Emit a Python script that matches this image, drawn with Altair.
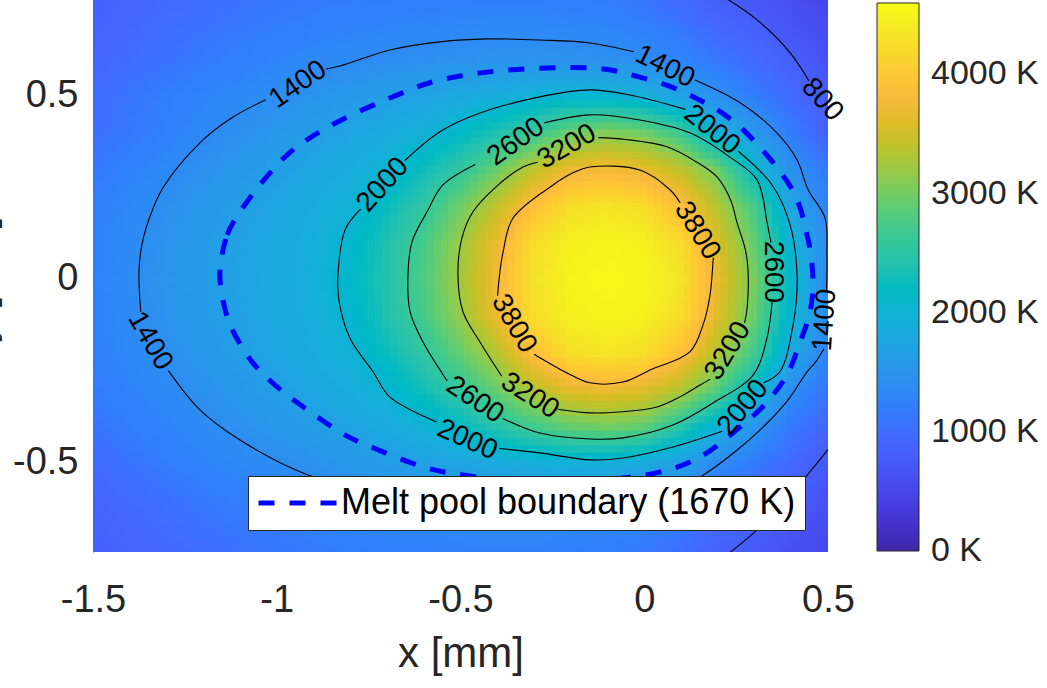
import numpy as np
import pandas as pd
import altair as alt

FONT = "Liberation Sans"
TEXT_GREY = "#262626"

# ---------------------------------------------------------------------------
# Temperature field [K] on a 0.1 mm grid
# ---------------------------------------------------------------------------
x_nodes = [-1.5, -1.4, -1.3, -1.2, -1.1, -1.0, -0.9, -0.8, -0.7, -0.6, -0.5,
           -0.4, -0.3, -0.2, -0.1, 0.0, 0.1, 0.2, 0.3, 0.4, 0.5]
y_nodes = [0.8, 0.7, 0.6, 0.5, 0.4, 0.3, 0.2, 0.1, 0.0,
           -0.1, -0.2, -0.3, -0.4, -0.5, -0.6, -0.7, -0.8]

t_y_p08 = [800, 860, 920, 975, 1025, 1065, 1100, 1130, 1150, 1165, 1175, 1178, 1175, 1160, 1130, 1040, 920, 750, 670, 570, 470]
t_y_p07 = [850, 920, 990, 1050, 1110, 1160, 1205, 1240, 1270, 1290, 1305, 1310, 1310, 1295, 1265, 1200, 1080, 910, 805, 680, 560]
t_y_p06 = [900, 980, 1060, 1140, 1210, 1270, 1325, 1370, 1401, 1430, 1455, 1475, 1480, 1470, 1445, 1405, 1300, 1116, 962, 808, 650]
t_y_p05 = [980, 1090, 1190, 1270, 1340, 1416, 1493, 1571, 1649, 1733, 1819, 1905, 1991, 2060, 2055, 1960, 1720, 1445, 1207, 981, 770]
t_y_p04 = [1030, 1115, 1222, 1329, 1436, 1543, 1650, 1753, 1855, 1956, 2138, 2381, 2640, 2950, 3100, 3000, 2680, 1996, 1584, 1200, 850]
t_y_p03 = [1130, 1238, 1346, 1454, 1562, 1670, 1779, 1887, 1996, 2269, 2550, 2951, 3400, 3700, 3780, 3680, 3420, 2987, 2165, 1470, 1150]
t_y_p02 = [1207, 1319, 1431, 1543, 1655, 1761, 1866, 1971, 2226, 2540, 2971, 3424, 3900, 4250, 4330, 4250, 3880, 3352, 2752, 1788, 1270]
t_y_p01 = [1240, 1360, 1479, 1598, 1711, 1814, 1917, 2064, 2383, 2743, 3190, 3682, 4250, 4460, 4520, 4470, 4250, 3579, 2920, 2030, 1370]
t_y_000 = [1250, 1370, 1491, 1612, 1724, 1827, 1931, 2104, 2420, 2790, 3235, 3744, 4300, 4500, 4580, 4530, 4350, 3697, 3041, 2145, 1385]
t_y_m01 = [1240, 1362, 1480, 1600, 1705, 1808, 1910, 2057, 2390, 2727, 3160, 3680, 4250, 4460, 4520, 4470, 4260, 3600, 2940, 2070, 1370]
t_y_m02 = [1213, 1323, 1433, 1543, 1652, 1760, 1864, 1973, 2230, 2538, 2908, 3326, 3880, 4250, 4340, 4270, 3920, 3339, 2719, 1818, 1270]
t_y_m03 = [1152, 1254, 1355, 1457, 1558, 1660, 1775, 1892, 2019, 2292, 2565, 2933, 3330, 3620, 3700, 3600, 3330, 2824, 2122, 1420, 1100]
t_y_m04 = [1080, 1171, 1263, 1356, 1448, 1541, 1633, 1738, 1852, 1966, 2183, 2443, 2700, 2920, 3000, 2900, 2475, 1976, 1523, 1150, 900]
t_y_m05 = [960, 1070, 1170, 1260, 1335, 1385, 1462, 1540, 1618, 1690, 1760, 1840, 1900, 1950, 1940, 1850, 1660, 1380, 1166, 953, 740]
t_y_m06 = [880, 960, 1040, 1120, 1190, 1250, 1310, 1365, 1410, 1440, 1460, 1470, 1475, 1465, 1440, 1405, 1280, 1087, 930, 780, 640]
t_y_m07 = [830, 900, 970, 1030, 1090, 1140, 1190, 1230, 1260, 1285, 1300, 1305, 1305, 1290, 1260, 1200, 1090, 920, 790, 660, 550]
t_y_m08 = [780, 840, 900, 955, 1005, 1045, 1080, 1110, 1130, 1145, 1155, 1160, 1155, 1140, 1110, 1030, 910, 770, 670, 560, 460]

temperature_rows = [t_y_p08, t_y_p07, t_y_p06, t_y_p05, t_y_p04, t_y_p03, t_y_p02,
                    t_y_p01, t_y_000, t_y_m01, t_y_m02, t_y_m03, t_y_m04, t_y_m05,
                    t_y_m06, t_y_m07, t_y_m08]

# ---------------------------------------------------------------------------
# Isotherms (x, y in mm), split where the inline labels sit
# ---------------------------------------------------------------------------
iso_800 = [
    [(0.222, 0.765), (0.307, 0.706), (0.397, 0.616), (0.448, 0.540)],
    [(0.52, -0.44), (0.432, -0.548), (0.36, -0.63), (0.301, -0.689), (0.215, -0.76)],
]
iso_1400 = [
    [(-1.37, -0.09), (-1.375, 0.019), (-1.367, 0.093), (-1.345, 0.17), (-1.31, 0.248),
     (-1.209, 0.371), (-1.119, 0.441), (-1.03, 0.488)],
    [(-0.866, 0.572), (-0.828, 0.580), (-0.692, 0.624), (-0.556, 0.646), (-0.428, 0.654),
     (-0.284, 0.651), (-0.148, 0.643), (-0.028, 0.619)],
    [(0.138, 0.542), (0.261, 0.480), (0.361, 0.398), (0.416, 0.324), (0.446, 0.243),
     (0.492, 0.166), (0.497, 0.074), (0.496, -0.03)],
    [(0.489, -0.19), (0.465, -0.228), (0.443, -0.253), (0.391, -0.330), (0.329, -0.398),
     (0.247, -0.471), (0.152, -0.540), (0.05, -0.59), (-0.15, -0.62), (-0.40, -0.62),
     (-0.60, -0.60), (-0.80, -0.565), (-0.915, -0.534), (-1.10, -0.439), (-1.209, -0.357),
     (-1.295, -0.25)],
]
iso_2000 = [
    [(-0.652, 0.322), (-0.556, 0.401), (-0.447, 0.452), (-0.284, 0.496), (-0.148, 0.515),
     (-0.039, 0.501), (0.112, 0.462)],
    [(0.256, 0.348), (0.348, 0.256), (0.397, 0.147), (0.416, 0.003), (0.405, -0.125),
     (0.369, -0.253), (0.325, -0.283)],
    [(0.212, -0.415), (0.078, -0.458), (-0.058, -0.488), (-0.148, -0.493), (-0.284, -0.474),
     (-0.395, -0.462)],
    [(-0.565, -0.39), (-0.692, -0.322), (-0.738, -0.253), (-0.801, -0.161), (-0.831, -0.057),
     (-0.833, 0.019), (-0.814, 0.134), (-0.772, 0.19)],
]
iso_2600 = [
    [(-0.272, 0.425), (-0.148, 0.447), (-0.012, 0.433), (0.124, 0.398), (0.233, 0.332),
     (0.307, 0.270), (0.334, 0.155), (0.345, 0.098)],
    [(0.348, -0.06), (0.334, -0.161), (0.296, -0.262), (0.187, -0.338), (0.078, -0.398),
     (-0.058, -0.433), (-0.148, -0.436), (-0.284, -0.420), (-0.385, -0.38)],
    [(-0.536, -0.278), (-0.602, -0.172), (-0.637, -0.090), (-0.643, 0.011), (-0.632, 0.101),
     (-0.591, 0.183), (-0.548, 0.256), (-0.46, 0.312)],
]
iso_3200 = [
    [(-0.125, 0.385), (-0.05, 0.380), (0.062, 0.360), (0.140, 0.320), (0.198, 0.278),
     (0.235, 0.215), (0.252, 0.155), (0.275, 0.080), (0.282, 0.030), (0.280, -0.079),
     (0.273, -0.12)],
    [(0.18, -0.273), (0.152, -0.289), (0.100, -0.320), (0.035, -0.349), (-0.060, -0.362),
     (-0.148, -0.365), (-0.221, -0.357), (-0.235, -0.355)],
    [(-0.388, -0.265), (-0.447, -0.172), (-0.493, -0.090), (-0.507, 0.011), (-0.496, 0.112),
     (-0.466, 0.183), (-0.401, 0.253), (-0.33, 0.305), (-0.29, 0.318)],
]
iso_3800 = [
    [(-0.30, -0.205), (-0.210, -0.256), (-0.148, -0.283), (-0.058, -0.281), (0.016, -0.248),
     (0.124, -0.199), (0.160, -0.125), (0.179, -0.044), (0.187, 0.046), (0.188, 0.058)],
    [(0.098, 0.207), (0.070, 0.243), (-0.012, 0.297), (-0.148, 0.305), (-0.194, 0.289),
     (-0.248, 0.256), (-0.357, 0.166), (-0.384, 0.074), (-0.395, 0.0), (-0.399, -0.046)],
]

# Melt pool boundary, 1670 K (closed curve)
melt_x = [-1.154, -1.135, -1.100, -1.046, -0.98, -0.918, -0.828, -0.692, -0.556, -0.373,
          -0.148, -0.012, 0.124, 0.261, 0.397, 0.443, 0.459, 0.451, 0.424, 0.388, 0.33,
          0.261, 0.152, 0.029, -0.15, -0.35, -0.493, -0.602, -0.738, -0.828, -0.964,
          -1.037, -1.081, -1.127, -1.149]
melt_y = [0.030, 0.120, 0.183, 0.256, 0.33, 0.379, 0.431, 0.493, 0.542, 0.569,
          0.575, 0.550, 0.501, 0.414, 0.253, 0.120, 0.003, -0.090, -0.172, -0.262, -0.34,
          -0.403, -0.485, -0.529, -0.55, -0.55, -0.534, -0.512, -0.460, -0.417, -0.322,
          -0.259, -0.207, -0.125, -0.044]
melt_name = "Melt pool boundary (1670 K)"

# Inline isotherm labels: text, x, y, rotation (deg, clockwise)
label_text = ["1400", "1400", "800", "2000", "2600", "3200", "2000", "3800", "2600",
              "1400", "3800", "3200", "2000", "2600", "3200", "2000", "1400"]
label_x = [-0.942, 0.056, 0.484, -0.711, -0.349, -0.210, 0.184, 0.144, 0.350,
           0.492, -0.355, 0.228, 0.269, -0.461, -0.311, -0.482, -1.345]
label_y = [0.529, 0.578, 0.488, 0.256, 0.373, 0.360, 0.406, 0.131, 0.019,
           -0.112, -0.122, -0.196, -0.351, -0.330, -0.319, -0.439, -0.169]
label_angle = [325.5, 26.6, 48, 312, 324.6, 330, 38.7, 58.5, 90,
               274, 60, 301, 309.6, 33.7, 32.3, 23.8, 60]

# Colour bar ticks
cbar_ticks = [0, 1000, 2000, 3000, 4000]
T_MAX = 4600

# Parula colormap (64 entries)
parula = [
    (0.2422, 0.1504, 0.6603), (0.2504, 0.1650, 0.7076), (0.2578, 0.1818, 0.7511), (0.2647, 0.1978, 0.7952),
    (0.2706, 0.2147, 0.8364), (0.2751, 0.2342, 0.8710), (0.2783, 0.2559, 0.8991), (0.2803, 0.2782, 0.9221),
    (0.2813, 0.3006, 0.9414), (0.2810, 0.3228, 0.9579), (0.2795, 0.3447, 0.9717), (0.2760, 0.3667, 0.9829),
    (0.2699, 0.3892, 0.9906), (0.2602, 0.4123, 0.9952), (0.2440, 0.4358, 0.9988), (0.2206, 0.4603, 0.9973),
    (0.1963, 0.4847, 0.9892), (0.1834, 0.5074, 0.9798), (0.1786, 0.5289, 0.9682), (0.1764, 0.5499, 0.9520),
    (0.1687, 0.5703, 0.9359), (0.1540, 0.5902, 0.9218), (0.1460, 0.6091, 0.9079), (0.1380, 0.6276, 0.8973),
    (0.1248, 0.6459, 0.8883), (0.1113, 0.6635, 0.8763), (0.0952, 0.6798, 0.8598), (0.0689, 0.6948, 0.8394),
    (0.0297, 0.7082, 0.8163), (0.0036, 0.7203, 0.7917), (0.0067, 0.7312, 0.7660), (0.0433, 0.7411, 0.7394),
    (0.0964, 0.7500, 0.7120), (0.1408, 0.7584, 0.6842), (0.1717, 0.7670, 0.6554), (0.1938, 0.7758, 0.6251),
    (0.2161, 0.7843, 0.5923), (0.2470, 0.7918, 0.5567), (0.2906, 0.7973, 0.5188), (0.3406, 0.8008, 0.4789),
    (0.3909, 0.8029, 0.4354), (0.4456, 0.8024, 0.3909), (0.5044, 0.7993, 0.3480), (0.5616, 0.7942, 0.3045),
    (0.6174, 0.7876, 0.2612), (0.6720, 0.7793, 0.2227), (0.7242, 0.7698, 0.1910), (0.7738, 0.7598, 0.1646),
    (0.8203, 0.7498, 0.1535), (0.8634, 0.7406, 0.1596), (0.9035, 0.7330, 0.1774), (0.9393, 0.7288, 0.2100),
    (0.9728, 0.7298, 0.2394), (0.9956, 0.7434, 0.2371), (0.9970, 0.7659, 0.2199), (0.9952, 0.7893, 0.2028),
    (0.9892, 0.8136, 0.1885), (0.9786, 0.8386, 0.1766), (0.9676, 0.8639, 0.1643), (0.9610, 0.8890, 0.1537),
    (0.9597, 0.9135, 0.1423), (0.9628, 0.9373, 0.1265), (0.9691, 0.9606, 0.1064), (0.9769, 0.9839, 0.0805),
]
parula_hex = ["#%02x%02x%02x" % tuple(int(round(c * 255)) for c in rgb) for rgb in parula]
parula_stops = list(np.linspace(0, T_MAX, len(parula_hex)))
parula_stops[0] = -1.0  # keeps the "0 K" label centred on the bar end

# ---------------------------------------------------------------------------
# Build tables
# ---------------------------------------------------------------------------
X_DOMAIN = [-1.5, 0.5]
Y_DOMAIN = [-0.744, 0.760]

# interpolated ("interp") shading between grid nodes
STEP = 0.02
grid = np.array(temperature_rows, dtype=float)[::-1]      # bottom -> top
gy_nodes = np.array(y_nodes)[::-1]
fx = np.round(np.arange(X_DOMAIN[0], X_DOMAIN[1] + 1e-9, STEP), 4)
fy = np.round(np.arange(-0.76, 0.78 + 1e-9, STEP), 4)
along_x = np.array([np.interp(fx, x_nodes, row) for row in grid])
shaded = np.array([np.interp(fy, gy_nodes, along_x[:, j]) for j in range(len(fx))]).T
half = STEP / 2 + 0.003
XX, YY = np.meshgrid(fx, fy)
cells = pd.DataFrame({
    "x0": (XX - half).ravel(), "x1": (XX + half).ravel(),
    "y0": (YY - half).ravel(), "y1": (YY + half).ravel(),
    "T": np.round(shaded.ravel(), 1),
})

iso_rows = []
for level, pieces in [(800, iso_800), (1400, iso_1400), (2000, iso_2000),
                      (2600, iso_2600), (3200, iso_3200), (3800, iso_3800)]:
    for p, piece in enumerate(pieces):
        for i, (px, py) in enumerate(piece):
            iso_rows.append({"piece": f"{level}-{p}", "i": i, "x": px, "y": py})
iso_df = pd.DataFrame(iso_rows)

melt_df = pd.DataFrame({"x": melt_x, "y": melt_y, "i": range(len(melt_x)), "name": melt_name})
label_df = pd.DataFrame({"text": label_text, "x": label_x, "y": label_y, "angle": label_angle})

# ---------------------------------------------------------------------------
# Chart
# ---------------------------------------------------------------------------
sign_expr = "datum.value < 0 ? '-' + format(-datum.value, '~g') : format(datum.value, '~g')"
x_scale = alt.Scale(domain=X_DOMAIN, nice=False, zero=False)
y_scale = alt.Scale(domain=Y_DOMAIN, nice=False, zero=False)

x_axis = alt.Axis(values=[-1.5, -1, -0.5, 0, 0.5], labelExpr=sign_expr, domain=False,
                  ticks=False, tickSize=0, grid=False, labelFlush=False, labelOverlap=False,
                  labelFont=FONT, labelFontSize=38, labelColor=TEXT_GREY, labelPadding=29,
                  title="x [mm]", titleFont=FONT, titleFontSize=42, titleFontWeight="normal",
                  titleColor=TEXT_GREY, titlePadding=14)
y_axis = alt.Axis(values=[-0.5, 0, 0.5], labelExpr=sign_expr, domain=True,
                  domainColor="#808080", domainWidth=1, ticks=False, tickSize=0, grid=False,
                  labelFlush=False, labelOverlap=False, labelFont=FONT, labelFontSize=38,
                  labelColor=TEXT_GREY, labelPadding=15, title="y [mm]", titleFont=FONT,
                  titleFontSize=42, titleFontWeight="normal", titleColor=TEXT_GREY,
                  titleAngle=270, titleAlign="center", titleBaseline="alphabetic",
                  titleX=-101, titleY=279)


def X(field):
    return alt.X(f"{field}:Q", scale=x_scale, axis=x_axis, title="x [mm]")


def Y(field):
    return alt.Y(f"{field}:Q", scale=y_scale, axis=y_axis, title="y [mm]")


heat = alt.Chart(cells).mark_rect(clip=True, strokeWidth=0).encode(
    x=X("x0"), x2="x1:Q", y=Y("y0"), y2="y1:Q",
    color=alt.Color(
        "T:Q",
        scale=alt.Scale(domain=parula_stops, range=parula_hex, interpolate="rgb"),
        legend=alt.Legend(
            title=None, orient="none", legendX=784, legendY=3, direction="vertical",
            gradientLength=548, gradientThickness=42, gradientStrokeColor=TEXT_GREY,
            gradientStrokeWidth=1, values=cbar_ticks, labelExpr="datum.value + ' K'",
            labelFont=FONT, labelFontSize=34, labelColor=TEXT_GREY, labelOffset=12,
            labelOverlap=False, padding=0,
        ),
    ),
)

isotherms = alt.Chart(iso_df).mark_line(
    color="black", strokeWidth=1.1, interpolate="catmull-rom", clip=True
).encode(x=X("x"), y=Y("y"), detail="piece:N", order="i:Q")

# legend sample: an 85 px dashed stroke drawn from a short path symbol
melt = alt.Chart(melt_df).mark_line(
    strokeWidth=5, strokeDash=[16, 15], interpolate="cardinal-closed", clip=True
).encode(
    x=X("x"), y=Y("y"), order="i:Q",
    color=alt.Color(
        "name:N",
        scale=alt.Scale(domain=[melt_name], range=["#0000ff"]),
        legend=alt.Legend(
            title=None, orient="none", legendX=155, legendY=476,
            symbolType="M-5,0H5", symbolSize=289, symbolOffset=26,
            symbolStrokeWidth=5, symbolDash=[16, 15], symbolFillColor="transparent",
            clipHeight=36, labelFont=FONT, labelFontSize=36, labelColor="black",
            labelOffset=22, labelLimit=800, fillColor="white", strokeColor=TEXT_GREY,
            padding=9,
        ),
    ),
)

labels = alt.Chart(label_df).mark_text(
    font=FONT, fontSize=28, color="black", align="center", baseline="middle"
).encode(x=X("x"), y=Y("y"), text="text:N", angle=alt.Angle("angle:Q", scale=None))

chart = (
    alt.layer(heat, isotherms, melt, labels)
    .resolve_scale(color="independent")
    .properties(
        width=735, height=552,
        autosize=alt.AutoSizeParams(type="none"),
        padding={"left": 93, "top": 0, "right": 219, "bottom": 136},
        background="white",
    )
    .configure_view(stroke=None)
)

chart.save("out.html", embed_options={"renderer": "svg", "actions": False})
